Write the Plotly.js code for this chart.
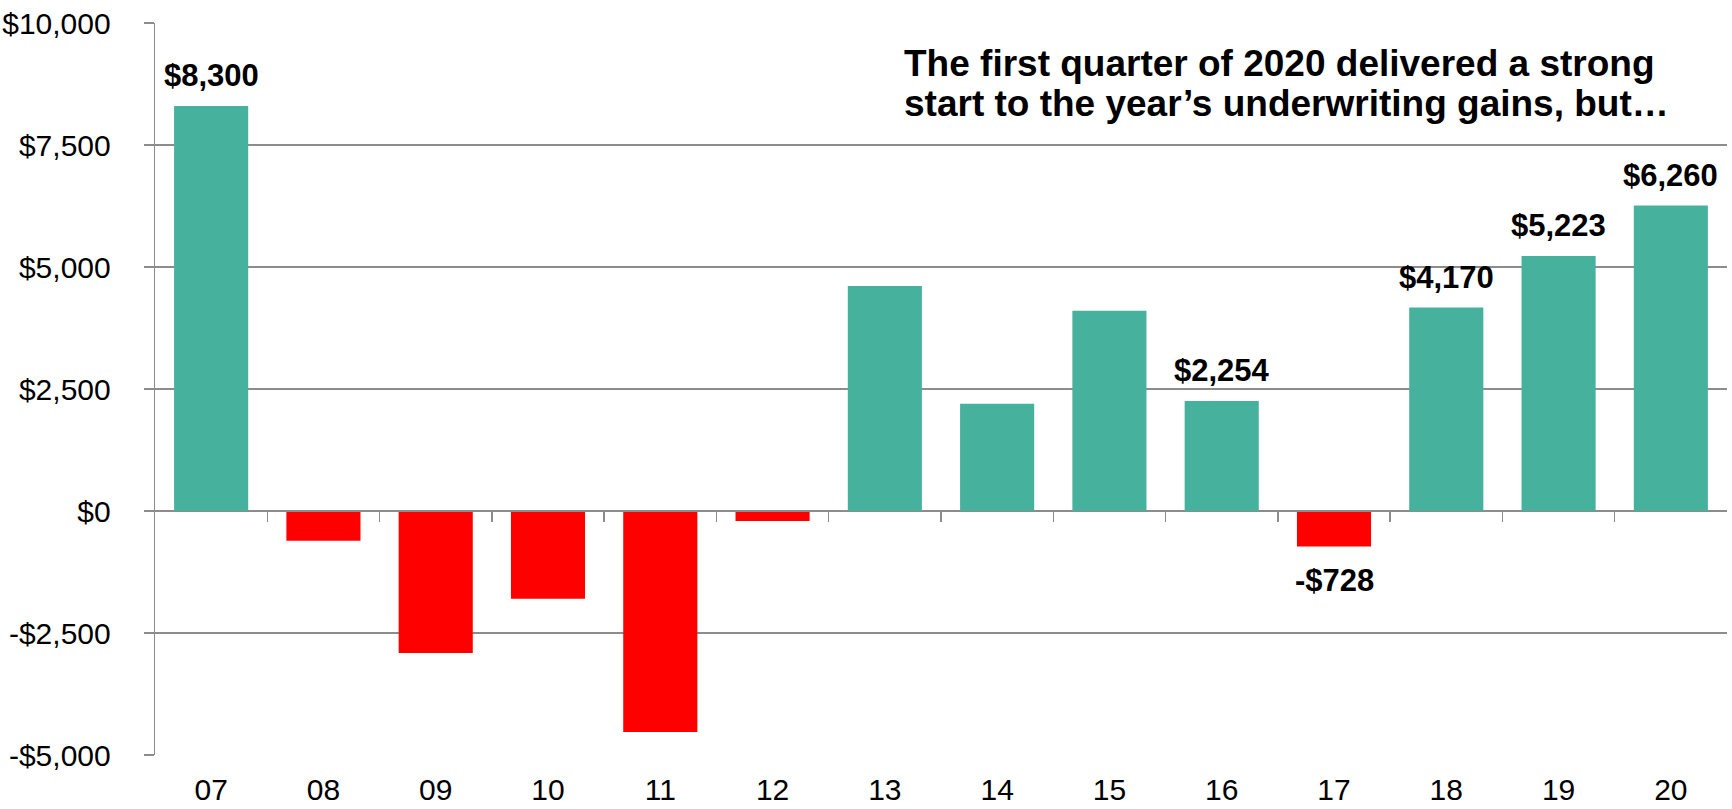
<!DOCTYPE html>
<html>
<head>
<meta charset="utf-8">
<script src="https://cdn.plot.ly/plotly-3.0.1.min.js"></script>
<style>
  html, body { margin: 0; padding: 0; background: #fff; }
  #chart { width: 1732px; height: 809px; }
</style>
</head>
<body>
<div id="chart"></div>
<script>
// ---- data ----
const categories = ['07', '08', '09', '10', '11', '12', '13', '14', '15', '16', '17', '18', '19', '20'];
const values = [8300, -610, -2910, -1800, -4530, -205, 4610, 2200, 4105, 2254, -728, 4170, 5223, 6260];
const valueLabels = ['$8,300', '', '', '', '', '', '', '', '', '$2,254', '-$728', '$4,170', '$5,223', '$6,260'];
const yTickVals = [-5000, -2500, 0, 2500, 5000, 7500, 10000];
const yTickText = ['-$5,000', '-$2,500', '$0', '$2,500', '$5,000', '$7,500', '$10,000'];
const noteLines = ['The first quarter of 2020 delivered a strong', 'start to the year\u2019s underwriting gains, but\u2026'];

// ---- styles ----
const TEAL = '#46B29D';
const RED = '#FF0000';
const GRID = '#8c8c8c';
const FONT = 'Liberation Sans, Arial, sans-serif';

const idx = categories.map((c, i) => i);

const barTrace = {
  type: 'bar',
  x: idx,
  y: values,
  marker: { color: values.map(v => v >= 0 ? TEAL : RED), line: { width: 0 } },
  hoverinfo: 'skip'
};
// empty helper trace so the zero-line tick axis (x2) is drawn
const axisTrace = { type: 'scatter', mode: 'markers', x: [], y: [], xaxis: 'x2', yaxis: 'y', hoverinfo: 'skip', showlegend: false };

const annotations = [];
valueLabels.forEach((t, i) => {
  if (!t) return;
  const pos = values[i] >= 0;
  annotations.push({
    x: idx[i], y: values[i], xref: 'x', yref: 'y',
    text: '<b>' + t + '</b>', showarrow: false,
    xanchor: 'center', yanchor: pos ? 'bottom' : 'top',
    yshift: pos ? 11 : -14,
    font: { family: FONT, size: 31, color: '#000' }
  });
});
const noteY = [0.9136, 0.8597];
noteLines.forEach((t, i) => {
  annotations.push({
    x: 0.4752, y: noteY[i], xref: 'paper', yref: 'paper',
    text: '<b>' + t + '</b>', showarrow: false,
    xanchor: 'left', yanchor: 'bottom', align: 'left',
    font: { family: FONT, size: 37, color: '#000' }
  });
});

const xRange = [-0.5, categories.length - 0.5];

const layout = {
  width: 1732, height: 809,
  margin: { l: 155, r: 5, t: 23, b: 54, pad: 0 },
  paper_bgcolor: '#fff', plot_bgcolor: '#fff',
  showlegend: false,
  bargap: 0.34,
  font: { family: FONT, color: '#000' },
  xaxis: {
    type: 'linear', range: xRange,
    tickmode: 'array', tickvals: idx, ticktext: categories,
    showgrid: false, zeroline: false, showline: false,
    ticks: '', ticklabelstandoff: 14,
    tickfont: { family: FONT, size: 30, color: '#000' },
    fixedrange: true
  },
  xaxis2: {
    overlaying: 'x', anchor: 'free', position: 1 / 3,
    type: 'linear', range: xRange,
    tickmode: 'array', tickvals: idx.slice(1).map(i => i - 0.5),
    ticks: 'outside', ticklen: 10, tickwidth: 1.3, tickcolor: GRID,
    showticklabels: false, showgrid: false, zeroline: false,
    showline: true, linecolor: GRID, linewidth: 1.3,
    fixedrange: true
  },
  yaxis: {
    range: [-5000, 10000],
    tickmode: 'array', tickvals: yTickVals, ticktext: yTickText,
    showgrid: true, gridcolor: GRID, gridwidth: 1.3,
    zeroline: true, zerolinecolor: GRID, zerolinewidth: 1.3,
    showline: true, linecolor: GRID, linewidth: 1.3,
    ticks: 'outside', ticklen: 10, tickwidth: 1.3, tickcolor: GRID,
    ticklabelstandoff: 27,
    tickfont: { family: FONT, size: 30, color: '#000' },
    fixedrange: true
  },
  annotations: annotations
};

Plotly.newPlot('chart', [barTrace, axisTrace], layout, { staticPlot: true, displayModeBar: false });
</script>
</body>
</html>
